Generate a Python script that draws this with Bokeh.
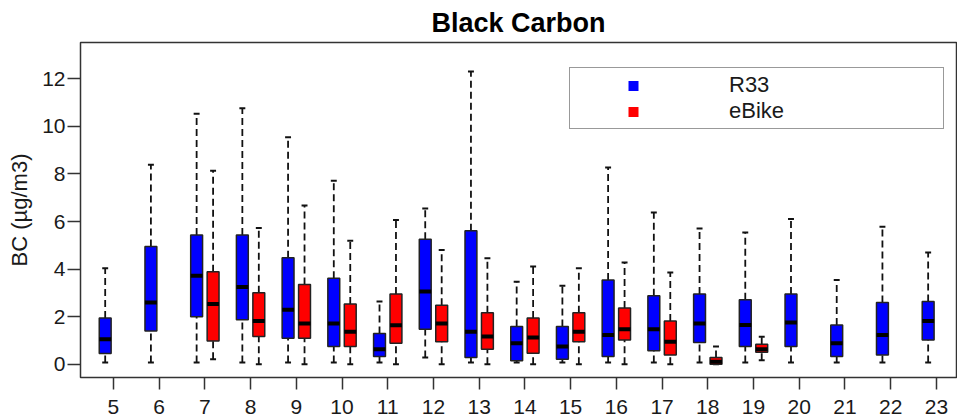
from bokeh.plotting import figure
from bokeh.models import FixedTicker, Range1d, Legend, LegendItem, ColumnDataSource
from bokeh.embed import file_html
from bokeh.resources import INLINE

# ---- data ----
hours = [5, 6, 7, 8, 9, 10, 11, 12, 13, 14, 15, 16, 17, 18, 19, 20, 21, 22, 23]
r33_low  = [0.07, 0.07, 0.07, 0.07, 0.07, 0.07, 0.07, 0.28, 0.07, 0.07, 0.07, 0.07, 0.07, 0.07, 0.07, 0.07, 0.07, 0.07, 0.07]
r33_q1   = [0.45, 1.40, 1.99, 1.87, 1.09, 0.74, 0.32, 1.47, 0.28, 0.14, 0.21, 0.32, 0.56, 0.91, 0.74, 0.74, 0.32, 0.39, 1.02]
r33_med  = [1.05, 2.59, 3.72, 3.25, 2.29, 1.71, 0.63, 3.06, 1.36, 0.88, 0.74, 1.23, 1.47, 1.71, 1.65, 1.75, 0.88, 1.23, 1.82]
r33_q3   = [1.94, 4.95, 5.43, 5.43, 4.48, 3.61, 1.29, 5.25, 5.61, 1.58, 1.58, 3.54, 2.88, 2.95, 2.71, 2.95, 1.65, 2.59, 2.64]
r33_high = [4.03, 8.39, 10.53, 10.76, 9.54, 7.72, 2.64, 6.55, 12.31, 3.47, 3.30, 8.27, 6.38, 5.71, 5.54, 6.11, 3.54, 5.78, 4.70]

ebike_hours = [7, 8, 9, 10, 11, 12, 13, 14, 15, 16, 17, 18, 19]
ebike_low  = [0.21, 0.0, 0.0, 0.0, 0.0, 0.0, 0.0, 0.0, 0.0, 0.0, 0.0, 0.0, 0.17]
ebike_q1   = [0.98, 1.16, 1.09, 0.74, 0.88, 0.94, 0.63, 0.46, 0.94, 1.02, 0.39, 0.0, 0.50]
ebike_med  = [2.53, 1.82, 1.71, 1.36, 1.64, 1.71, 1.16, 1.12, 1.36, 1.47, 0.94, 0.10, 0.63]
ebike_q3   = [3.89, 3.00, 3.35, 2.53, 2.95, 2.48, 2.16, 1.94, 2.16, 2.36, 1.82, 0.28, 0.84]
ebike_high = [8.14, 5.73, 6.67, 5.19, 6.06, 4.80, 4.46, 4.11, 4.03, 4.28, 3.86, 0.74, 1.15]

y_ticks = [0, 2, 4, 6, 8, 10, 12]
series_names = ["R33", "eBike"]
series_colors = ["#0000FF", "#FF0000"]

# ---- style ----
FONT = "Liberation Sans"
OFFSET = 0.18
BOX_W = 0.26
CAP_W = 0.13
FRAME = "#333333"

p = figure(width=957, height=419, output_backend="svg", toolbar_location=None,
           x_range=Range1d(4.28, 23.44), y_range=Range1d(-0.56, 13.53),
           min_border_left=80, min_border_right=1, min_border_top=42, min_border_bottom=42,
           title="Black Carbon")
p.background_fill_color = "white"
p.border_fill_color = "white"
p.outline_line_color = FRAME
p.outline_line_width = 1.5
p.xgrid.visible = False
p.ygrid.visible = False

p.title.text_font = FONT
p.title.text_font_size = "27px"
p.title.text_font_style = "bold"
p.title.text_color = "black"
p.title.align = "center"
p.title.standoff = 10

for ax in (p.xaxis[0], p.yaxis[0]):
    ax.axis_line_color = None
    ax.major_tick_line_color = FRAME
    ax.major_tick_line_width = 1.5
    ax.minor_tick_line_color = None
    ax.major_tick_in = 0
    ax.major_label_text_font = FONT
    ax.major_label_text_font_size = "21px"
    ax.major_label_text_color = "#1a1a1a"

p.xaxis.ticker = FixedTicker(ticks=hours)
p.xaxis.major_tick_out = 12
p.xaxis.major_label_standoff = 10
p.yaxis.ticker = FixedTicker(ticks=y_ticks)
p.yaxis.major_tick_out = 13
p.yaxis.major_label_standoff = 2
p.yaxis.axis_label = "BC (\u00b5g/m3)"
p.yaxis.axis_label_text_font = FONT
p.yaxis.axis_label_text_font_size = "22px"
p.yaxis.axis_label_text_font_style = "normal"
p.yaxis.axis_label_text_color = "#1a1a1a"
p.yaxis.axis_label_standoff = 7


def draw_series(hrs, low, q1, med, q3, high, offset, color):
    x = [h + offset for h in hrs]
    src = ColumnDataSource(dict(
        x=x, low=low, q1=q1, med=med, q3=q3, high=high,
        bl=[v - BOX_W / 2 for v in x], br=[v + BOX_W / 2 for v in x],
        cl=[v - CAP_W / 2 for v in x], cr=[v + CAP_W / 2 for v in x],
    ))
    # whiskers
    p.segment(x0="x", y0="q3", x1="x", y1="high", source=src, line_color="#111111",
              line_width=1.8, line_dash="7 4")
    p.segment(x0="x", y0="low", x1="x", y1="q1", source=src, line_color="#111111",
              line_width=1.8, line_dash="7 4")
    # caps
    p.segment(x0="cl", y0="high", x1="cr", y1="high", source=src, line_color="#111111", line_width=2)
    p.segment(x0="cl", y0="low", x1="cr", y1="low", source=src, line_color="#111111", line_width=2)
    # boxes
    p.vbar(x="x", width=BOX_W, bottom="q1", top="q3", source=src, fill_color=color,
           line_color="#222222", line_width=1.5)
    # medians
    p.segment(x0="bl", y0="med", x1="br", y1="med", source=src, line_color="black",
              line_width=4, line_cap="butt")


draw_series(hours, r33_low, r33_q1, r33_med, r33_q3, r33_high, -OFFSET, series_colors[0])
draw_series(ebike_hours, ebike_low, ebike_q1, ebike_med, ebike_q3, ebike_high, OFFSET, series_colors[1])

# legend glyph holders (invisible points, squares drawn by the legend)
leg_r = []
for c in series_colors:
    leg_r.append(p.scatter(x=[hours[0]], y=[r33_med[0]], size=0, marker="square",
                           fill_color=c, line_color=None))

legend = Legend(items=[LegendItem(label=n, renderers=[r]) for n, r in zip(series_names, leg_r)],
                location=(489, 248), padding=4, spacing=0, margin=0,
                glyph_width=118, glyph_height=25, label_height=25,
                label_standoff=37, label_width=210,
                border_line_color=FRAME, border_line_width=1.5,
                background_fill_color="white", background_fill_alpha=1,
                label_text_font=FONT, label_text_font_size="22px",
                label_text_color="#1a1a1a")
p.add_layout(legend)

open("out.html", "w").write(file_html(p, INLINE))
